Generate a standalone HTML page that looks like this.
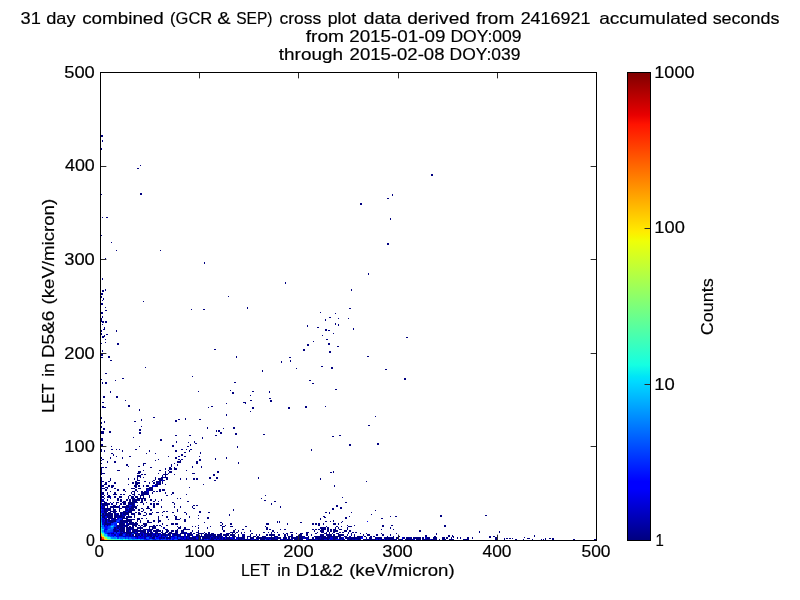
<!DOCTYPE html>
<html><head><meta charset="utf-8"><title>LET cross plot</title>
<style>
html,body{margin:0;padding:0;background:#fff;}
body{width:800px;height:600px;overflow:hidden;}
svg{display:block;}
text{font-family:"Liberation Sans",sans-serif;font-size:16.5px;fill:#000;stroke:#000;stroke-width:0.18px;}
</style></head><body>
<svg width="800" height="600" viewBox="0 0 800 600">
<defs><linearGradient id="jet" x1="0" y1="1" x2="0" y2="0"><stop offset="0.0000" stop-color="rgb(0,0,128)"/><stop offset="0.1100" stop-color="rgb(0,0,255)"/><stop offset="0.1250" stop-color="rgb(0,0,255)"/><stop offset="0.3400" stop-color="rgb(0,219,255)"/><stop offset="0.3500" stop-color="rgb(0,229,247)"/><stop offset="0.3750" stop-color="rgb(21,255,226)"/><stop offset="0.6400" stop-color="rgb(239,255,8)"/><stop offset="0.6500" stop-color="rgb(247,246,0)"/><stop offset="0.6600" stop-color="rgb(255,236,0)"/><stop offset="0.8900" stop-color="rgb(255,19,0)"/><stop offset="0.9100" stop-color="rgb(232,0,0)"/><stop offset="1.0000" stop-color="rgb(128,0,0)"/></linearGradient><filter id="gray" x="0" y="0" width="800" height="600" filterUnits="userSpaceOnUse" color-interpolation-filters="sRGB"><feColorMatrix type="saturate" values="0"/></filter></defs>
<rect x="0" y="0" width="800" height="600" fill="#fff"/>
<g shape-rendering="crispEdges">
<path fill="#000080" d="M101 135h2v2h-2zM101 293h2v2h-2zM101 303h2v2h-2zM101 312h2v2h-2zM101 354h2v2h-2zM101 357h2v1h-2zM101 438h2v3h-2zM101 444h2v2h-2zM102 140h1v2h-1zM102 217h1v1h-1zM102 278h1v2h-1zM102 300h1v1h-1zM102 316h1v2h-1zM102 324h1v1h-1zM102 350h1v2h-1zM102 382h1v2h-1zM101 148h1v2h-1zM101 194h1v1h-1zM101 235h1v1h-1zM101 296h1v2h-1zM101 318h1v3h-1zM101 330h1v2h-1zM101 333h1v2h-1zM101 343h1v1h-1zM101 379h1v1h-1zM101 417h1v2h-1zM101 422h1v2h-1zM101 426h1v2h-1zM140 165h1v1h-1zM137 168h2v1h-2zM431 174h2v2h-2zM140 193h2v2h-2zM392 194h1v2h-1zM387 198h2v1h-2zM387 243h2v2h-2zM360 203h2v2h-2zM106 217h2v1h-2zM106 334h2v1h-2zM390 218h1v2h-1zM390 516h1v1h-1zM111 242h1v1h-1zM111 446h1v1h-1zM116 250h1v1h-1zM116 330h1v2h-1zM160 250h1v1h-1zM105 258h1v1h-1zM105 289h1v2h-1zM105 307h1v1h-1zM105 339h1v1h-1zM105 342h1v1h-1zM204 262h1v2h-1zM368 273h1v2h-1zM285 282h1v2h-1zM351 289h1v2h-1zM351 512h1v1h-1zM102 290h2v2h-2zM102 322h2v1h-2zM102 337h2v1h-2zM102 402h2v1h-2zM102 406h2v1h-2zM228 296h1v1h-1zM103 298h1v2h-1zM143 301h1v1h-1zM247 307h1v2h-1zM349 308h2v1h-2zM349 444h2v2h-2zM191 309h1v1h-1zM203 309h2v1h-2zM105 310h2v1h-2zM105 321h2v2h-2zM105 373h2v1h-2zM105 382h2v2h-2zM320 312h1v1h-1zM320 478h1v2h-1zM320 518h1v2h-1zM335 313h1v1h-1zM335 323h1v2h-1zM329 317h2v1h-2zM329 351h2v2h-2zM338 318h1v1h-1zM338 324h1v2h-1zM348 318h1v1h-1zM325 319h1v2h-1zM325 406h1v1h-1zM101 321h3v1h-3zM101 431h3v3h-3zM307 325h1v2h-1zM104 327h1v2h-1zM104 335h1v1h-1zM104 421h1v2h-1zM317 327h2v1h-2zM353 328h1v2h-1zM103 329h2v1h-2zM103 396h2v2h-2zM103 428h2v2h-2zM325 329h2v2h-2zM325 512h2v1h-2zM325 521h2v1h-2zM328 330h2v1h-2zM328 343h2v2h-2zM333 333h1v1h-1zM333 471h1v2h-1zM333 520h1v2h-1zM322 335h1v1h-1zM102 336h3v1h-3zM406 337h2v1h-2zM326 339h2v1h-2zM313 341h1v1h-1zM117 343h2v2h-2zM307 344h2v2h-2zM337 346h2v1h-2zM214 349h2v1h-2zM214 480h2v1h-2zM303 349h2v2h-2zM108 356h2v2h-2zM236 356h1v2h-1zM367 356h2v1h-2zM289 357h2v1h-2zM110 360h2v1h-2zM290 360h1v2h-1zM281 361h1v2h-1zM321 366h2v1h-2zM145 367h1v1h-1zM331 367h2v2h-2zM296 368h1v1h-1zM385 369h2v1h-2zM262 370h1v2h-1zM192 376h1v1h-1zM122 378h2v1h-2zM404 378h2v2h-2zM115 380h1v1h-1zM309 380h2v1h-2zM234 382h2v1h-2zM312 383h2v1h-2zM335 389h2v1h-2zM230 390h1v1h-1zM110 391h1v2h-1zM198 391h1v1h-1zM252 391h2v1h-2zM252 407h2v2h-2zM269 391h1v2h-1zM232 392h2v2h-2zM250 395h1v1h-1zM250 411h1v1h-1zM116 396h2v2h-2zM269 398h2v1h-2zM125 400h1v1h-1zM250 400h2v1h-2zM270 400h2v2h-2zM243 402h3v1h-3zM226 403h1v1h-1zM226 414h1v2h-1zM226 457h1v2h-1zM245 403h1v1h-1zM128 405h2v2h-2zM211 406h2v1h-2zM305 406h2v2h-2zM102 407h4v1h-4zM208 407h1v1h-1zM288 407h2v2h-2zM139 409h1v2h-1zM139 446h1v1h-1zM375 416h1v1h-1zM375 510h1v1h-1zM153 417h2v1h-2zM185 418h1v2h-1zM141 419h1v2h-1zM141 426h1v1h-1zM178 419h2v1h-2zM199 419h2v1h-2zM199 459h2v2h-2zM199 511h2v2h-2zM175 420h2v2h-2zM175 435h2v1h-2zM134 421h2v1h-2zM368 425h2v1h-2zM207 427h1v2h-1zM233 427h2v2h-2zM223 428h1v1h-1zM139 429h2v2h-2zM139 432h2v2h-2zM216 430h1v2h-1zM218 430h2v2h-2zM109 431h2v2h-2zM220 432h2v2h-2zM235 433h2v2h-2zM263 434h2v1h-2zM189 435h2v1h-2zM215 435h2v1h-2zM339 435h2v1h-2zM332 436h2v1h-2zM332 508h2v2h-2zM133 437h1v1h-1zM202 437h1v2h-1zM160 439h2v2h-2zM176 441h1v2h-1zM194 441h1v2h-1zM188 442h1v1h-1zM195 443h2v1h-2zM377 443h2v2h-2zM190 444h1v2h-1zM172 445h2v2h-2zM187 446h2v1h-2zM237 446h1v2h-1zM311 449h1v2h-1zM200 452h1v2h-1zM215 458h1v2h-1zM238 462h1v2h-1zM201 466h1v2h-1zM217 471h2v2h-2zM330 472h2v1h-2zM213 474h2v2h-2zM209 477h2v2h-2zM216 477h2v2h-2zM258 477h1v2h-1zM366 481h1v1h-1zM203 484h1v1h-1zM334 485h1v2h-1zM265 495h1v1h-1zM342 497h1v1h-1zM342 521h1v1h-1zM261 498h1v1h-1zM264 500h2v1h-2zM274 501h2v1h-2zM345 502h2v1h-2zM345 517h2v2h-2zM271 503h1v2h-1zM336 505h2v2h-2zM280 506h1v2h-1zM340 507h2v2h-2zM233 509h1v2h-1zM208 512h2v1h-2zM329 512h1v2h-1zM229 514h1v2h-1zM371 514h1v1h-1zM440 515h2v2h-2zM485 515h2v1h-2zM323 516h2v1h-2zM349 516h1v1h-1zM395 516h2v1h-2zM207 517h2v2h-2zM324 517h2v1h-2zM381 518h2v1h-2zM277 521h1v2h-1zM279 521h1v2h-1zM330 521h1v1h-1zM444 525h2v2h-2zM419 530h2v2h-2zM479 531h1v2h-1zM499 531h1v2h-1zM436 533h1v2h-1zM425 535h2v2h-2zM448 535h2v2h-2zM452 535h1v1h-1zM534 535h1v2h-1zM434 536h2v1h-2zM452 536h2v1h-2zM489 536h2v2h-2zM493 536h2v1h-2zM453 537h1v1h-1zM524 537h1v1h-1zM504 538h1v2h-1zM506 538h2v1h-2zM509 538h2v1h-2zM512 538h1v1h-1zM527 538h3v1h-3zM545 538h1v2h-1zM549 538h2v1h-2zM552 538h2v2h-2zM515 539h2v1h-2zM523 539h1v1h-1zM532 539h1v1h-1zM541 539h1v1h-1zM543 539h1v1h-1zM573 539h2v1h-2zM594 539h2v1h-2z"/>
<path fill="#000080" d="M101 449h1v3h-1zM101 457h1v2h-1zM101 463h1v1h-1zM101 467h1v6h-1zM101 474h1v1h-1zM101 480h1v1h-1zM101 491h1v1h-1zM101 499h1v2h-1zM111 449h2v1h-2zM111 453h2v1h-2zM111 487h2v1h-2zM116 449h1v1h-1zM116 456h1v1h-1zM119 449h1v1h-1zM119 508h1v4h-1zM135 449h2v1h-2zM135 481h2v1h-2zM135 485h2v3h-2zM135 489h2v2h-2zM135 508h2v1h-2zM135 512h2v1h-2zM135 522h2v1h-2zM135 536h2v1h-2zM181 449h2v1h-2zM181 454h2v2h-2zM181 459h2v1h-2zM186 449h1v1h-1zM186 470h1v1h-1zM186 478h1v2h-1zM186 494h1v1h-1zM186 513h1v2h-1zM190 449h2v1h-2zM190 532h2v1h-2zM104 450h1v2h-1zM104 495h1v1h-1zM104 503h1v2h-1zM104 512h1v1h-1zM122 450h1v2h-1zM122 457h1v2h-1zM122 523h1v2h-1zM149 450h1v2h-1zM149 482h1v2h-1zM149 495h1v3h-1zM149 530h1v2h-1zM175 450h2v2h-2zM175 457h2v2h-2zM175 516h2v3h-2zM189 450h1v2h-1zM189 487h1v1h-1zM189 516h1v2h-1zM184 452h2v1h-2zM184 456h2v1h-2zM184 512h2v1h-2zM184 519h2v3h-2zM184 527h2v2h-2zM146 453h1v1h-1zM146 488h1v1h-1zM146 518h1v1h-1zM146 529h1v1h-1zM155 453h1v1h-1zM155 460h1v1h-1zM155 477h1v3h-1zM155 499h1v2h-1zM155 527h1v2h-1zM155 532h1v1h-1zM113 454h1v2h-1zM113 505h1v1h-1zM113 508h1v1h-1zM129 456h2v1h-2zM129 495h2v1h-2zM129 499h2v2h-2zM129 532h2v1h-2zM168 456h1v1h-1zM168 519h1v1h-1zM168 533h1v1h-1zM199 456h1v1h-1zM110 457h1v2h-1zM110 478h1v2h-1zM110 491h1v1h-1zM110 498h1v1h-1zM110 502h1v1h-1zM110 511h1v1h-1zM110 515h1v1h-1zM102 459h2v1h-2zM102 473h2v1h-2zM102 481h2v1h-2zM102 505h2v1h-2zM158 459h1v1h-1zM158 473h1v1h-1zM158 501h1v1h-1zM158 516h1v3h-1zM158 522h1v1h-1zM158 529h1v1h-1zM178 459h2v1h-2zM180 460h1v1h-1zM180 478h1v2h-1zM180 498h1v1h-1zM180 518h1v1h-1zM180 526h1v1h-1zM114 461h2v2h-2zM114 482h2v2h-2zM114 488h2v1h-2zM114 492h2v2h-2zM114 496h2v2h-2zM114 513h2v2h-2zM114 527h2v3h-2zM178 461h3v2h-3zM178 527h3v2h-3zM196 461h2v3h-2zM196 478h2v2h-2zM196 505h2v1h-2zM196 532h2v1h-2zM143 463h3v1h-3zM143 515h3v1h-3zM143 532h3v1h-3zM174 463h1v1h-1zM174 467h1v1h-1zM174 474h1v1h-1zM174 503h1v2h-1zM174 506h1v2h-1zM174 515h1v1h-1zM126 464h2v2h-2zM126 499h2v2h-2zM126 506h2v2h-2zM126 513h2v2h-2zM126 522h2v1h-2zM143 464h1v2h-1zM143 470h1v1h-1zM143 477h1v1h-1zM143 485h1v2h-1zM143 495h1v1h-1zM143 503h1v2h-1zM143 509h1v2h-1zM143 526h1v1h-1zM171 464h1v3h-1zM171 494h1v1h-1zM171 523h1v2h-1zM171 530h1v3h-1zM171 536h1v1h-1zM177 464h1v2h-1zM177 498h1v1h-1zM177 509h1v2h-1zM177 532h1v1h-1zM177 534h1v2h-1zM128 466h1v1h-1zM128 478h1v2h-1zM128 484h1v1h-1zM128 496h1v3h-1zM128 502h1v1h-1zM128 511h1v1h-1zM128 529h1v1h-1zM138 466h2v1h-2zM138 485h2v2h-2zM138 499h2v2h-2zM138 509h2v2h-2zM138 512h2v1h-2zM138 525h2v1h-2zM192 466h1v2h-1zM192 506h1v2h-1zM192 526h1v1h-1zM192 530h1v2h-1zM105 467h2v1h-2zM105 487h2v1h-2zM150 467h2v1h-2zM150 499h2v2h-2zM150 503h2v2h-2zM150 509h2v2h-2zM150 513h2v2h-2zM169 467h2v3h-2zM165 468h1v2h-1zM165 471h1v3h-1zM165 484h1v1h-1zM165 492h1v2h-1zM174 468h3v2h-3zM117 470h3v1h-3zM159 470h2v1h-2zM159 480h2v1h-2zM159 482h2v3h-2zM159 489h2v3h-2zM159 520h2v2h-2zM159 525h2v1h-2zM140 471h1v2h-1zM140 488h1v1h-1zM140 496h1v2h-1zM140 502h1v1h-1zM140 513h1v2h-1zM140 520h1v3h-1zM140 536h1v1h-1zM169 471h3v2h-3zM137 473h3v1h-3zM137 475h3v2h-3zM137 482h3v2h-3zM137 518h3v1h-3zM192 473h3v1h-3zM141 474h2v1h-2zM141 491h2v1h-2zM141 494h2v1h-2zM141 499h2v3h-2zM141 508h2v1h-2zM141 511h2v1h-2zM141 518h2v1h-2zM144 474h2v1h-2zM144 481h2v1h-2zM144 491h2v1h-2zM144 498h2v3h-2zM144 512h2v1h-2zM144 533h2v1h-2zM165 474h3v1h-3zM165 529h3v1h-3zM162 475h1v2h-1zM162 481h1v3h-1zM162 515h1v1h-1zM162 523h1v2h-1zM162 530h1v2h-1zM137 477h1v3h-1zM137 496h1v3h-1zM137 502h1v1h-1zM137 505h1v1h-1zM137 519h1v3h-1zM137 527h1v2h-1zM137 530h1v4h-1zM166 477h2v3h-2zM166 495h2v1h-2zM166 511h2v1h-2zM166 516h2v2h-2zM166 525h2v1h-2zM134 478h1v2h-1zM134 492h1v4h-1zM134 499h1v2h-1zM134 506h1v2h-1zM134 516h1v2h-1zM158 478h3v2h-3zM158 530h3v2h-3zM193 478h2v2h-2zM193 505h2v1h-2zM193 508h2v1h-2zM108 481h2v1h-2zM108 485h2v2h-2zM108 509h2v2h-2zM152 481h1v1h-1zM152 487h1v2h-1zM152 492h1v2h-1zM152 512h1v1h-1zM152 527h1v2h-1zM156 481h5v1h-5zM132 482h2v2h-2zM132 491h2v1h-2zM132 534h2v2h-2zM153 482h2v2h-2zM153 491h2v1h-2zM153 501h2v1h-2zM153 503h2v5h-2zM153 520h2v2h-2zM156 482h2v2h-2zM156 485h2v2h-2zM156 491h2v1h-2zM156 512h2v1h-2zM104 484h3v1h-3zM104 502h3v1h-3zM104 508h3v1h-3zM104 511h3v1h-3zM135 484h3v1h-3zM135 523h3v2h-3zM111 485h3v2h-3zM111 506h3v2h-3zM146 485h3v2h-3zM102 488h3v1h-3zM131 488h4v1h-4zM117 489h2v2h-2zM117 499h2v2h-2zM117 506h2v2h-2zM117 515h2v1h-2zM123 489h2v2h-2zM123 494h2v1h-2zM123 506h2v2h-2zM123 511h2v1h-2zM123 527h2v2h-2zM150 489h3v2h-3zM162 489h3v2h-3zM125 491h1v1h-1zM125 503h1v2h-1zM125 508h1v1h-1zM107 492h1v3h-1zM107 513h1v3h-1zM131 492h1v2h-1zM131 508h1v1h-1zM131 511h1v1h-1zM131 516h1v2h-1zM131 522h1v1h-1zM141 492h3v2h-3zM172 492h2v2h-2zM172 502h2v1h-2zM172 512h2v1h-2zM114 494h3v1h-3zM120 494h2v1h-2zM120 499h2v3h-2zM120 503h2v2h-2zM120 513h2v2h-2zM120 522h2v1h-2zM120 529h2v1h-2zM147 494h2v1h-2zM147 506h2v2h-2zM147 520h2v2h-2zM107 496h3v2h-3zM107 503h3v2h-3zM119 496h3v2h-3zM131 496h3v2h-3zM132 498h3v1h-3zM132 505h3v1h-3zM132 509h3v2h-3zM132 513h3v2h-3zM132 532h3v1h-3zM140 498h3v1h-3zM140 527h3v2h-3zM161 499h1v2h-1zM161 506h1v2h-1zM161 526h1v1h-1zM161 536h1v1h-1zM123 501h3v1h-3zM187 501h2v1h-2zM116 502h3v1h-3zM122 502h4v1h-4zM156 503h3v2h-3zM105 505h3v1h-3zM146 508h4v1h-4zM113 509h3v2h-3zM113 518h3v1h-3zM113 511h4v1h-4zM163 511h2v1h-2zM163 533h2v1h-2zM108 512h3v1h-3zM128 512h4v1h-4zM198 515h1v1h-1zM198 518h1v1h-1zM198 527h1v2h-1zM198 530h1v2h-1zM198 534h1v2h-1zM110 516h3v2h-3zM125 518h3v1h-3zM129 519h6v1h-6zM175 519h5v1h-5zM122 520h3v2h-3zM126 520h6v2h-6zM147 522h5v1h-5zM204 522h1v1h-1zM220 522h2v1h-2zM220 533h2v1h-2zM300 522h2v1h-2zM341 522h1v1h-1zM341 526h1v1h-1zM341 534h1v2h-1zM129 523h5v2h-5zM143 523h4v2h-4zM175 523h3v2h-3zM230 523h2v2h-2zM230 534h2v2h-2zM266 523h3v2h-3zM287 523h1v2h-1zM287 534h1v2h-1zM312 523h2v2h-2zM312 529h2v1h-2zM312 537h2v2h-2zM315 523h2v2h-2zM315 529h2v1h-2zM315 533h2v1h-2zM315 537h2v2h-2zM318 523h2v2h-2zM318 529h2v1h-2zM318 539h2v1h-2zM323 523h1v2h-1zM323 529h1v1h-1zM333 523h3v2h-3zM333 529h3v1h-3zM338 523h1v2h-1zM338 527h1v2h-1zM338 534h1v2h-1zM125 525h4v1h-4zM144 525h3v1h-3zM225 525h1v1h-1zM225 536h1v1h-1zM347 525h1v1h-1zM347 527h1v3h-1zM347 534h1v2h-1zM382 525h2v2h-2zM382 534h2v2h-2zM391 525h2v1h-2zM391 539h2v1h-2zM152 526h4v1h-4zM195 526h1v1h-1zM195 539h1v1h-1zM222 526h3v1h-3zM230 526h3v1h-3zM245 526h2v1h-2zM265 526h1v1h-1zM326 526h1v1h-1zM326 533h1v3h-1zM326 537h1v2h-1zM336 526h2v1h-2zM336 530h2v2h-2zM348 526h4v1h-4zM207 527h1v2h-1zM207 536h1v1h-1zM222 527h1v3h-1zM266 527h2v3h-2zM266 534h2v2h-2zM320 527h6v2h-6zM327 527h2v5h-2zM335 527h1v2h-1zM335 536h1v1h-1zM390 527h1v2h-1zM390 534h1v2h-1zM390 537h1v2h-1zM134 529h3v1h-3zM149 529h3v1h-3zM183 529h7v1h-7zM235 529h1v1h-1zM235 533h1v1h-1zM235 536h1v1h-1zM242 529h2v1h-2zM280 529h1v1h-1zM284 529h2v1h-2zM284 534h2v3h-2zM330 529h2v1h-2zM330 536h2v1h-2zM339 529h3v1h-3zM381 529h1v1h-1zM381 533h1v1h-1zM393 529h1v1h-1zM393 537h1v2h-1zM126 530h3v2h-3zM126 533h3v1h-3zM140 530h6v2h-6zM166 530h3v2h-3zM181 530h3v3h-3zM233 530h2v2h-2zM233 534h2v2h-2zM238 530h1v2h-1zM238 536h1v1h-1zM250 530h1v2h-1zM250 534h1v3h-1zM272 530h2v2h-2zM314 530h1v2h-1zM320 530h3v2h-3zM320 534h3v2h-3zM344 530h3v2h-3zM344 536h3v1h-3zM349 530h2v2h-2zM349 539h2v1h-2zM208 532h2v2h-2zM230 532h5v1h-5zM236 532h2v1h-2zM241 532h1v1h-1zM241 537h1v2h-1zM244 532h1v1h-1zM244 536h1v1h-1zM244 539h1v1h-1zM271 532h1v2h-1zM271 537h1v2h-1zM274 532h1v1h-1zM277 532h1v1h-1zM277 539h1v1h-1zM290 532h3v1h-3zM308 532h1v1h-1zM308 536h1v1h-1zM321 532h3v1h-3zM329 532h1v2h-1zM333 532h2v1h-2zM339 532h2v1h-2zM339 536h2v1h-2zM342 532h2v1h-2zM352 532h2v1h-2zM155 533h3v1h-3zM172 533h3v1h-3zM183 533h1v1h-1zM189 533h3v1h-3zM198 533h6v1h-6zM205 533h2v3h-2zM211 533h2v1h-2zM211 537h2v2h-2zM227 533h3v1h-3zM232 533h1v1h-1zM251 533h2v1h-2zM283 533h1v1h-1zM286 533h2v1h-2zM296 533h1v1h-1zM296 539h1v1h-1zM300 533h3v1h-3zM300 536h3v1h-3zM306 533h2v1h-2zM332 533h1v1h-1zM336 533h3v1h-3zM348 533h1v1h-1zM351 533h1v1h-1zM351 537h1v2h-1zM360 533h1v1h-1zM360 536h1v1h-1zM396 533h1v1h-1zM396 539h1v1h-1zM187 534h3v2h-3zM213 534h3v2h-3zM217 534h5v2h-5zM223 534h3v2h-3zM227 534h2v2h-2zM259 534h1v2h-1zM269 534h6v2h-6zM278 534h2v2h-2zM291 534h2v2h-2zM299 534h3v2h-3zM311 534h1v2h-1zM329 534h3v2h-3zM354 534h1v5h-1zM363 534h1v2h-1zM367 534h3v2h-3zM376 534h2v2h-2zM219 536h3v1h-3zM229 536h1v1h-1zM247 536h1v1h-1zM253 536h1v3h-1zM257 536h2v1h-2zM288 536h3v1h-3zM297 536h2v1h-2zM321 536h5v1h-5zM357 536h1v1h-1zM370 536h2v3h-2zM373 536h2v1h-2zM387 536h1v3h-1zM399 536h1v1h-1zM207 537h3v2h-3zM259 537h6v2h-6zM293 537h1v2h-1zM297 537h3v2h-3zM302 537h1v2h-1zM321 537h2v3h-2zM358 537h2v2h-2zM378 537h3v2h-3zM384 537h1v2h-1zM397 537h2v2h-2zM408 537h1v2h-1zM411 537h1v2h-1zM415 537h3v2h-3zM419 537h2v2h-2zM434 537h3v2h-3zM442 537h3v2h-3zM446 537h2v2h-2zM457 537h1v2h-1zM460 537h1v2h-1zM467 537h2v2h-2zM495 537h2v3h-2zM226 539h1v1h-1zM239 539h2v1h-2zM268 539h1v1h-1zM299 539h4v1h-4zM309 539h2v1h-2zM373 539h3v1h-3zM381 539h3v1h-3zM388 539h2v1h-2zM399 539h3v1h-3zM412 539h1v1h-1zM418 539h3v1h-3zM424 539h3v1h-3zM428 539h2v1h-2zM433 539h1v1h-1zM439 539h1v1h-1zM445 539h1v1h-1zM449 539h5v1h-5zM463 539h4v1h-4z"/>
<path fill="#000080" d="M101 460h1v1h-1zM101 477h1v3h-1zM177 461h1v2h-1zM177 526h1v1h-1zM177 529h1v1h-1zM102 467h2v1h-2zM102 485h2v2h-2zM102 492h2v3h-2zM102 501h2v1h-2zM171 468h1v2h-1zM168 470h1v1h-1zM168 473h1v1h-1zM140 477h1v1h-1zM140 526h1v1h-1zM161 478h2v2h-2zM161 532h2v1h-2zM110 480h1v1h-1zM110 508h1v3h-1zM110 513h1v2h-1zM153 480h2v1h-2zM153 527h2v2h-2zM161 480h1v1h-1zM161 534h1v2h-1zM163 480h2v1h-2zM135 482h2v2h-2zM135 496h2v2h-2zM135 499h2v3h-2zM135 526h2v1h-2zM155 484h1v1h-1zM158 484h1v1h-1zM158 520h1v2h-1zM158 534h1v2h-1zM134 485h1v2h-1zM134 491h1v1h-1zM134 523h1v2h-1zM134 530h1v2h-1zM134 536h1v1h-1zM107 487h1v2h-1zM107 499h1v2h-1zM107 508h1v1h-1zM107 516h1v2h-1zM149 487h1v1h-1zM149 489h1v2h-1zM149 513h1v2h-1zM149 526h1v3h-1zM147 488h5v1h-5zM146 489h1v2h-1zM146 492h1v2h-1zM146 502h1v1h-1zM146 513h1v2h-1zM113 494h1v1h-1zM132 494h2v1h-2zM132 526h2v1h-2zM132 529h2v1h-2zM138 494h2v1h-2zM138 513h2v2h-2zM138 519h2v1h-2zM138 530h2v2h-2zM140 495h3v1h-3zM143 496h1v3h-1zM104 498h1v1h-1zM104 516h1v2h-1zM131 498h1v1h-1zM131 513h1v2h-1zM129 501h2v4h-2zM129 508h2v1h-2zM129 511h2v1h-2zM129 526h2v1h-2zM141 502h2v1h-2zM141 525h2v1h-2zM105 503h2v2h-2zM105 512h2v1h-2zM105 523h2v2h-2zM116 503h1v2h-1zM116 532h1v1h-1zM126 505h2v1h-2zM126 526h2v1h-2zM126 529h2v1h-2zM114 506h2v2h-2zM114 515h2v1h-2zM122 506h1v2h-1zM122 530h1v2h-1zM125 506h1v2h-1zM125 512h1v1h-1zM125 522h1v1h-1zM125 532h1v1h-1zM104 509h3v2h-3zM104 518h3v1h-3zM113 512h3v1h-3zM162 512h1v1h-1zM117 513h2v2h-2zM117 527h2v2h-2zM128 513h1v2h-1zM128 532h1v1h-1zM108 515h2v1h-2zM108 519h2v1h-2zM111 515h2v1h-2zM114 516h3v2h-3zM119 516h1v2h-1zM119 523h1v2h-1zM119 534h1v2h-1zM126 516h3v2h-3zM126 519h3v1h-3zM108 518h5v1h-5zM108 520h5v2h-5zM123 518h2v1h-2zM120 520h2v2h-2zM120 533h2v1h-2zM119 525h3v1h-3zM132 525h5v1h-5zM156 525h2v1h-2zM156 529h2v1h-2zM156 532h2v1h-2zM156 536h2v1h-2zM220 525h2v1h-2zM354 525h1v1h-1zM354 539h1v1h-1zM117 526h3v1h-3zM128 527h3v2h-3zM144 529h2v1h-2zM152 529h1v1h-1zM324 529h2v1h-2zM324 537h2v2h-2zM150 530h2v2h-2zM150 533h2v1h-2zM153 530h3v2h-3zM172 530h2v2h-2zM175 530h2v2h-2zM175 533h2v3h-2zM223 530h2v2h-2zM223 537h2v2h-2zM323 530h1v2h-1zM323 534h1v2h-1zM323 539h1v1h-1zM330 530h2v2h-2zM333 530h2v2h-2zM333 534h2v3h-2zM169 532h2v2h-2zM169 537h2v2h-2zM186 532h1v1h-1zM204 532h1v1h-1zM204 534h1v2h-1zM263 532h2v1h-2zM263 536h2v1h-2zM263 539h2v1h-2zM306 532h2v1h-2zM306 534h2v2h-2zM317 532h1v1h-1zM317 537h1v2h-1zM348 532h1v1h-1zM355 532h2v1h-2zM355 537h2v2h-2zM159 533h2v1h-2zM180 533h1v1h-1zM193 533h2v1h-2zM193 537h2v3h-2zM213 533h1v1h-1zM366 533h1v1h-1zM366 537h1v2h-1zM165 534h1v2h-1zM168 534h3v2h-3zM196 534h2v2h-2zM201 534h1v2h-1zM207 534h6v2h-6zM238 534h1v2h-1zM238 537h1v2h-1zM256 534h1v2h-1zM327 534h2v5h-2zM339 534h2v2h-2zM342 534h2v2h-2zM351 534h1v2h-1zM189 536h1v3h-1zM198 536h1v1h-1zM202 536h2v1h-2zM205 536h2v1h-2zM213 536h3v1h-3zM217 536h2v3h-2zM226 536h1v1h-1zM232 536h1v1h-1zM248 536h2v1h-2zM274 536h4v1h-4zM296 536h1v1h-1zM299 536h1v1h-1zM314 536h1v1h-1zM318 536h2v1h-2zM336 536h3v1h-3zM358 536h2v1h-2zM361 536h2v1h-2zM364 536h2v1h-2zM364 539h2v1h-2zM393 536h1v1h-1zM227 537h2v2h-2zM244 537h1v2h-1zM247 537h1v2h-1zM256 537h3v2h-3zM265 537h1v2h-1zM269 537h2v2h-2zM274 537h1v2h-1zM277 537h1v2h-1zM280 537h1v2h-1zM283 537h1v3h-1zM286 537h1v2h-1zM288 537h2v2h-2zM291 537h2v2h-2zM294 537h2v2h-2zM305 537h1v2h-1zM335 537h3v2h-3zM341 537h1v2h-1zM345 537h4v2h-4zM375 537h1v2h-1zM385 537h2v2h-2zM388 537h2v2h-2zM391 537h2v2h-2zM406 537h2v3h-2zM422 537h2v3h-2zM427 537h3v2h-3zM433 537h1v2h-1zM451 537h1v2h-1zM472 537h1v2h-1zM187 539h2v1h-2zM230 539h2v1h-2zM241 539h1v1h-1zM245 539h2v1h-2zM254 539h2v1h-2zM260 539h2v1h-2zM271 539h6v1h-6zM287 539h3v1h-3zM297 539h2v1h-2zM308 539h1v1h-1zM358 539h3v1h-3zM372 539h1v1h-1zM390 539h1v1h-1zM393 539h3v1h-3zM409 539h2v1h-2zM431 539h2v1h-2zM442 539h1v1h-1zM467 539h2v1h-2z"/>
<path fill="#000080" d="M101 473h1v1h-1zM101 485h1v3h-1zM101 495h1v1h-1zM101 498h1v1h-1zM163 474h2v1h-2zM163 534h2v2h-2zM163 537h2v2h-2zM140 475h1v2h-1zM140 533h1v1h-1zM162 477h1v1h-1zM162 533h1v1h-1zM165 477h1v1h-1zM165 533h1v1h-1zM137 480h1v1h-1zM137 499h1v2h-1zM137 529h1v1h-1zM156 484h2v1h-2zM156 530h2v2h-2zM152 485h1v2h-1zM152 533h1v1h-1zM155 485h1v2h-1zM155 534h1v2h-1zM144 492h2v2h-2zM144 526h2v1h-2zM143 494h3v1h-3zM102 496h2v2h-2zM102 503h2v2h-2zM102 508h2v1h-2zM102 513h2v2h-2zM132 499h2v2h-2zM132 508h2v1h-2zM132 527h2v2h-2zM132 501h3v1h-3zM113 502h1v1h-1zM131 502h1v3h-1zM131 509h1v2h-1zM131 532h1v1h-1zM114 505h2v1h-2zM114 519h2v1h-2zM119 505h1v1h-1zM128 505h1v3h-1zM128 523h1v2h-1zM104 506h1v2h-1zM116 506h1v2h-1zM131 506h3v2h-3zM135 506h2v2h-2zM135 530h2v2h-2zM108 508h2v1h-2zM126 509h2v2h-2zM126 512h2v1h-2zM126 527h2v2h-2zM126 532h2v1h-2zM107 511h1v1h-1zM107 525h1v1h-1zM111 511h2v1h-2zM111 513h2v2h-2zM125 511h1v1h-1zM125 526h1v1h-1zM105 515h2v1h-2zM105 522h2v1h-2zM134 515h1v1h-1zM120 516h2v2h-2zM120 523h2v2h-2zM120 530h2v2h-2zM123 516h2v2h-2zM123 529h2v1h-2zM123 532h2v1h-2zM129 516h2v2h-2zM122 519h1v1h-1zM122 522h1v1h-1zM122 527h1v2h-1zM158 519h1v1h-1zM158 533h1v1h-1zM113 520h3v2h-3zM110 522h3v1h-3zM110 523h1v2h-1zM150 526h2v1h-2zM150 532h2v1h-2zM143 529h1v1h-1zM321 529h2v1h-2zM177 530h1v2h-1zM177 536h1v1h-1zM335 530h1v2h-1zM165 532h3v1h-3zM171 533h1v1h-1zM184 533h2v1h-2zM180 534h1v3h-1zM180 539h1v1h-1zM226 534h1v2h-1zM232 534h1v2h-1zM232 539h1v1h-1zM183 536h1v1h-1zM199 536h3v1h-3zM208 536h3v1h-3zM216 536h1v1h-1zM216 539h1v1h-1zM233 536h2v1h-2zM242 536h2v3h-2zM262 536h1v1h-1zM271 536h1v1h-1zM291 536h2v1h-2zM303 536h2v1h-2zM317 536h1v1h-1zM329 536h1v1h-1zM332 536h1v1h-1zM166 537h2v2h-2zM190 537h2v2h-2zM195 537h1v2h-1zM199 537h2v2h-2zM202 537h3v2h-3zM214 537h2v2h-2zM251 537h2v2h-2zM272 537h2v2h-2zM278 537h2v2h-2zM284 537h2v3h-2zM300 537h2v2h-2zM308 537h1v2h-1zM333 537h2v3h-2zM339 537h2v2h-2zM352 537h2v2h-2zM360 537h1v2h-1zM369 537h1v2h-1zM381 537h1v2h-1zM413 537h2v2h-2zM418 537h1v2h-1zM202 539h2v1h-2zM211 539h3v1h-3zM225 539h1v1h-1zM227 539h2v1h-2zM235 539h1v1h-1zM248 539h3v1h-3zM312 539h2v1h-2zM320 539h1v1h-1zM327 539h2v1h-2zM342 539h2v1h-2zM351 539h1v1h-1zM363 539h1v1h-1zM367 539h2v1h-2zM378 539h1v1h-1zM405 539h1v1h-1zM408 539h1v1h-1zM427 539h1v1h-1zM434 539h3v1h-3zM443 539h2v1h-2z"/>
<path fill="#000080" d="M107 461h1v2h-1zM107 506h1v2h-1zM138 471h2v2h-2zM138 480h2v1h-2zM138 488h2v1h-2zM138 498h2v1h-2zM138 527h2v2h-2zM138 534h2v2h-2zM104 473h1v1h-1zM104 515h1v1h-1zM104 525h1v1h-1zM165 475h1v2h-1zM165 536h1v1h-1zM161 477h1v1h-1zM161 537h1v2h-1zM101 482h1v2h-1zM101 489h1v2h-1zM101 492h1v2h-1zM101 496h1v2h-1zM101 501h1v1h-1zM105 482h2v2h-2zM105 489h2v2h-2zM105 513h2v2h-2zM105 519h2v3h-2zM150 487h2v1h-2zM150 536h2v1h-2zM137 491h1v1h-1zM137 536h1v1h-1zM108 495h2v1h-2zM108 513h2v2h-2zM108 516h2v2h-2zM117 498h2v1h-2zM117 525h2v1h-2zM117 530h2v2h-2zM132 502h5v1h-5zM123 503h2v2h-2zM123 512h2v1h-2zM123 523h2v2h-2zM123 530h2v2h-2zM128 503h1v2h-1zM128 515h1v1h-1zM132 503h2v2h-2zM132 522h2v1h-2zM132 530h2v2h-2zM110 506h1v2h-1zM180 506h1v2h-1zM120 508h2v1h-2zM120 512h2v1h-2zM120 515h2v1h-2zM120 527h2v2h-2zM120 534h2v2h-2zM129 509h2v2h-2zM129 522h2v1h-2zM129 529h2v1h-2zM129 533h2v3h-2zM177 511h1v1h-1zM158 512h1v1h-1zM123 513h3v2h-3zM116 515h1v1h-1zM102 516h2v2h-2zM122 518h1v1h-1zM122 529h1v1h-1zM122 533h1v1h-1zM113 519h1v1h-1zM113 533h1v1h-1zM125 520h1v2h-1zM107 523h3v2h-3zM172 523h2v2h-2zM222 523h1v2h-1zM122 525h3v1h-3zM153 525h2v1h-2zM153 536h2v1h-2zM198 525h1v1h-1zM198 532h1v1h-1zM198 537h1v2h-1zM318 525h2v1h-2zM318 537h2v2h-2zM120 526h3v1h-3zM210 526h1v1h-1zM119 529h1v1h-1zM140 529h1v1h-1zM269 529h2v1h-2zM114 530h2v2h-2zM147 532h2v1h-2zM175 532h2v1h-2zM268 532h1v1h-1zM326 532h1v1h-1zM134 533h3v1h-3zM146 533h3v1h-3zM181 533h2v1h-2zM181 536h2v1h-2zM186 533h1v1h-1zM186 536h1v4h-1zM241 533h1v1h-1zM324 533h2v1h-2zM135 534h2v2h-2zM141 534h2v2h-2zM147 534h5v2h-5zM174 534h1v2h-1zM190 534h2v2h-2zM244 534h1v2h-1zM169 536h2v1h-2zM195 536h1v1h-1zM254 536h2v1h-2zM265 536h1v1h-1zM315 536h2v1h-2zM320 536h1v1h-1zM152 537h3v2h-3zM168 537h1v2h-1zM183 537h1v2h-1zM192 537h1v2h-1zM205 537h2v2h-2zM220 537h2v2h-2zM226 537h1v2h-1zM229 537h1v3h-1zM233 537h2v2h-2zM250 537h1v2h-1zM296 537h1v2h-1zM323 537h1v2h-1zM329 537h1v2h-1zM357 537h1v2h-1zM396 537h1v2h-1zM403 537h2v2h-2zM178 539h2v1h-2zM198 539h3v1h-3zM223 539h2v1h-2zM238 539h1v1h-1zM262 539h1v1h-1zM280 539h1v1h-1zM290 539h1v1h-1zM294 539h2v1h-2zM311 539h1v1h-1zM314 539h1v1h-1zM370 539h2v1h-2zM385 539h2v1h-2zM411 539h1v1h-1zM416 539h2v1h-2z"/>
<path fill="#0000a4" d="M178 456h2v1h-2zM178 534h2v3h-2zM163 477h2v1h-2zM163 527h2v2h-2zM101 481h1v1h-1zM101 484h1v1h-1zM101 488h1v1h-1zM101 494h1v1h-1zM147 492h2v2h-2zM147 529h2v1h-2zM146 494h1v1h-1zM104 501h1v1h-1zM104 505h1v1h-1zM104 522h1v3h-1zM111 503h2v2h-2zM111 533h2v1h-2zM125 509h1v2h-1zM122 512h1v1h-1zM122 515h1v3h-1zM102 515h2v1h-2zM117 516h2v2h-2zM117 522h2v1h-2zM107 519h1v1h-1zM116 519h1v1h-1zM116 530h1v2h-1zM123 522h2v1h-2zM131 527h1v2h-1zM131 533h1v1h-1zM113 529h1v1h-1zM120 532h2v1h-2zM140 532h3v1h-3zM108 533h2v1h-2zM138 533h2v1h-2zM141 533h2v1h-2zM226 533h1v1h-1zM114 534h2v2h-2zM126 534h2v2h-2zM144 534h2v2h-2zM144 537h2v2h-2zM153 534h2v2h-2zM162 534h1v2h-1zM166 534h2v2h-2zM192 534h1v2h-1zM242 534h2v2h-2zM242 539h2v1h-2zM144 536h3v1h-3zM172 536h2v1h-2zM187 536h2v1h-2zM196 536h2v1h-2zM196 539h2v1h-2zM204 536h1v1h-1zM349 536h2v3h-2zM137 537h1v2h-1zM159 537h2v2h-2zM177 537h1v2h-1zM213 537h1v2h-1zM239 537h2v2h-2zM266 537h2v3h-2zM306 537h2v2h-2zM376 537h2v2h-2zM409 537h2v2h-2zM184 539h2v1h-2zM190 539h2v1h-2zM210 539h1v1h-1zM219 539h3v1h-3zM257 539h2v1h-2zM317 539h1v1h-1zM335 539h1v1h-1zM339 539h2v1h-2zM344 539h1v1h-1zM348 539h1v1h-1zM352 539h2v1h-2zM357 539h1v1h-1zM369 539h1v1h-1zM387 539h1v1h-1zM402 539h1v1h-1z"/>
<path fill="#0000c4" d="M147 489h2v2h-2zM147 530h2v2h-2zM147 536h2v1h-2zM146 491h3v1h-3zM110 496h1v2h-1zM102 499h2v2h-2zM102 506h2v2h-2zM102 511h2v1h-2zM102 519h2v3h-2zM129 506h2v2h-2zM129 530h2v2h-2zM107 509h1v2h-1zM128 509h1v2h-1zM128 534h1v2h-1zM123 515h2v1h-2zM123 526h2v1h-2zM126 523h2v2h-2zM104 526h1v1h-1zM116 526h1v4h-1zM119 527h1v2h-1zM113 530h1v3h-1zM152 532h1v1h-1zM152 534h1v2h-1zM184 532h2v1h-2zM184 534h2v3h-2zM149 533h1v1h-1zM177 533h1v1h-1zM122 534h1v2h-1zM125 534h1v2h-1zM137 534h1v2h-1zM172 534h2v2h-2zM123 536h3v1h-3zM129 536h5v1h-5zM141 536h3v1h-3zM192 536h1v1h-1zM192 539h1v1h-1zM222 536h1v1h-1zM222 539h1v1h-1zM162 537h1v2h-1zM181 537h2v3h-2zM187 537h2v2h-2zM219 537h1v2h-1zM236 537h2v2h-2zM268 537h1v2h-1zM275 537h2v2h-2zM303 537h2v2h-2zM320 537h1v2h-1zM332 537h1v2h-1zM342 537h2v2h-2zM425 537h2v2h-2zM189 539h1v1h-1zM208 539h2v1h-2zM233 539h2v1h-2zM247 539h1v1h-1zM251 539h2v1h-2zM291 539h2v1h-2zM315 539h2v1h-2zM330 539h3v1h-3zM347 539h1v1h-1zM355 539h2v1h-2zM366 539h1v1h-1zM413 539h2v1h-2z"/>
<path fill="#0000da" d="M158 482h1v2h-1zM101 503h1v2h-1zM134 503h1v2h-1zM119 506h1v2h-1zM119 522h1v1h-1zM126 508h2v1h-2zM102 509h2v2h-2zM102 522h2v3h-2zM104 513h1v2h-1zM104 520h1v2h-1zM116 513h1v2h-1zM122 513h1v2h-1zM117 518h2v1h-2zM111 519h2v1h-2zM107 520h1v2h-1zM107 533h1v1h-1zM107 522h3v1h-3zM113 522h1v1h-1zM105 529h2v1h-2zM123 533h2v1h-2zM187 533h2v1h-2zM156 534h2v2h-2zM128 536h1v1h-1zM155 536h1v1h-1zM193 536h2v1h-2zM211 536h2v1h-2zM141 537h2v2h-2zM149 537h3v2h-3zM174 537h1v2h-1zM210 537h1v2h-1zM216 537h1v2h-1zM230 537h2v2h-2zM330 537h2v2h-2zM205 539h2v1h-2zM217 539h2v1h-2zM236 539h2v1h-2zM253 539h1v1h-1zM286 539h1v1h-1zM324 539h2v1h-2zM376 539h2v1h-2zM379 539h2v1h-2z"/>
<path fill="#0000f1" d="M131 505h1v1h-1zM131 529h1v1h-1zM131 534h1v2h-1zM101 508h1v1h-1zM126 511h2v1h-2zM102 512h2v1h-2zM102 518h2v1h-2zM105 516h2v2h-2zM367 521h1v1h-1zM108 525h2v1h-2zM119 530h1v2h-1zM122 532h1v1h-1zM135 532h2v1h-2zM116 533h4v1h-4zM153 533h2v1h-2zM111 534h2v2h-2zM117 534h2v3h-2zM143 534h1v2h-1zM146 534h1v2h-1zM159 534h2v2h-2zM149 536h1v1h-1zM158 536h1v1h-1zM162 536h1v1h-1zM174 536h1v1h-1zM140 537h1v2h-1zM180 537h1v2h-1zM184 537h2v2h-2zM196 537h2v2h-2zM222 537h1v2h-1zM232 537h1v2h-1zM402 537h1v2h-1zM166 539h2v1h-2zM172 539h2v1h-2zM214 539h2v1h-2zM269 539h2v1h-2zM281 539h2v1h-2zM306 539h2v1h-2zM326 539h1v1h-1zM336 539h2v1h-2zM341 539h1v1h-1zM430 539h1v1h-1z"/>
<path fill="#0000ff" d="M101 506h1v2h-1zM119 515h1v1h-1zM105 525h2v4h-2zM116 525h1v1h-1zM116 536h1v1h-1zM104 530h1v2h-1zM111 532h2v1h-2zM110 533h1v1h-1zM143 533h1v1h-1zM143 537h1v2h-1zM113 534h1v2h-1zM138 536h2v3h-2zM159 536h2v1h-2zM159 539h2v1h-2zM135 537h2v2h-2zM156 537h2v2h-2zM361 537h2v2h-2zM146 539h1v1h-1zM155 539h1v1h-1zM169 539h2v1h-2zM183 539h1v1h-1zM256 539h1v1h-1z"/>
<path fill="#0005ff" d="M162 480h1v1h-1zM153 485h2v2h-2zM153 539h2v1h-2zM101 502h1v1h-1zM101 511h1v1h-1zM101 515h1v1h-1zM125 515h1v1h-1zM125 533h1v1h-1zM104 519h1v1h-1zM104 529h1v1h-1zM117 519h2v1h-2zM117 529h2v1h-2zM120 519h2v1h-2zM107 526h1v1h-1zM140 534h1v2h-1zM113 536h1v1h-1zM122 536h1v1h-1zM126 536h2v1h-2zM152 536h1v1h-1zM163 536h2v1h-2zM158 537h1v2h-1zM172 537h2v2h-2zM225 537h1v2h-1zM204 539h1v1h-1zM338 539h1v1h-1zM384 539h1v1h-1z"/>
<path fill="#0015ff" d="M129 505h2v1h-2zM101 512h1v1h-1zM120 518h2v1h-2zM116 520h1v2h-1zM116 523h1v2h-1zM119 520h1v2h-1zM110 525h1v1h-1zM110 532h1v1h-1zM114 532h2v2h-2zM108 534h2v2h-2zM119 536h3v1h-3zM165 537h1v2h-1zM175 537h2v2h-2zM144 539h2v1h-2zM177 539h1v1h-1z"/>
<path fill="#0021ff" d="M119 518h1v1h-1zM119 532h1v1h-1zM114 522h2v3h-2zM111 523h2v2h-2zM107 527h1v3h-1zM105 530h2v2h-2zM108 532h2v1h-2zM166 536h2v1h-2zM125 537h1v2h-1zM128 537h1v2h-1zM147 539h2v1h-2zM162 539h1v1h-1zM207 539h1v1h-1zM329 539h1v1h-1z"/>
<path fill="#002dff" d="M114 525h2v1h-2zM110 534h1v2h-1zM116 534h1v2h-1zM117 537h2v2h-2zM132 537h2v2h-2zM171 537h1v2h-1z"/>
<path fill="#0039ff" d="M128 508h1v1h-1zM101 509h1v2h-1zM114 526h2v1h-2zM104 527h1v2h-1zM111 530h2v2h-2zM111 536h2v1h-2zM105 532h3v1h-3zM117 532h2v1h-2zM105 533h2v1h-2zM123 534h2v2h-2zM175 536h2v1h-2zM131 537h1v2h-1zM178 537h2v2h-2zM152 539h1v1h-1zM163 539h2v1h-2zM265 539h1v1h-1z"/>
<path fill="#0041ff" d="M101 505h1v1h-1zM117 520h2v2h-2zM113 523h1v2h-1zM108 526h2v3h-2zM110 530h1v2h-1zM110 536h1v1h-1zM104 532h1v1h-1zM134 537h1v2h-1zM146 537h1v2h-1zM149 539h1v1h-1zM156 539h2v1h-2zM168 539h1v1h-1zM174 539h1v1h-1zM201 539h1v1h-1z"/>
<path fill="#004dff" d="M101 519h1v1h-1zM113 527h1v2h-1zM108 530h2v2h-2zM132 533h2v1h-2zM155 537h1v2h-1zM161 539h1v1h-1zM165 539h1v1h-1z"/>
<path fill="#0055ff" d="M101 518h1v1h-1zM119 519h1v1h-1zM102 525h2v2h-2zM110 527h1v2h-1zM111 529h2v1h-2zM107 530h1v2h-1zM114 536h2v1h-2zM147 537h2v2h-2zM140 539h1v1h-1zM171 539h1v1h-1zM175 539h2v1h-2z"/>
<path fill="#005dff" d="M110 529h1v1h-1zM107 534h1v2h-1zM120 537h2v2h-2zM126 537h2v2h-2zM158 539h1v1h-1z"/>
<path fill="#0065ff" d="M111 525h2v1h-2zM123 537h2v2h-2zM129 537h2v2h-2zM143 539h1v1h-1z"/>
<path fill="#006dff" d="M116 522h1v1h-1zM102 527h2v2h-2zM122 537h1v2h-1z"/>
<path fill="#0075ff" d="M110 526h1v1h-1z"/>
<path fill="#007dff" d="M101 513h1v2h-1zM101 516h1v2h-1zM101 520h1v2h-1zM101 526h1v1h-1zM111 527h2v2h-2zM108 536h2v1h-2zM150 539h2v1h-2z"/>
<path fill="#0081ff" d="M113 526h1v1h-1zM108 529h2v1h-2zM114 537h2v2h-2zM132 539h2v1h-2zM141 539h2v1h-2z"/>
<path fill="#0089ff" d="M102 530h2v2h-2zM113 537h1v2h-1zM119 537h1v2h-1z"/>
<path fill="#008dff" d="M111 537h2v2h-2zM134 539h1v1h-1z"/>
<path fill="#0094ff" d="M137 539h1v1h-1z"/>
<path fill="#0099ff" d="M113 525h1v1h-1z"/>
<path fill="#00a1ff" d="M104 533h1v1h-1zM128 539h1v1h-1zM135 539h2v1h-2z"/>
<path fill="#00a4ff" d="M101 522h1v1h-1zM129 539h2v1h-2z"/>
<path fill="#00adff" d="M116 537h1v2h-1z"/>
<path fill="#00b4ff" d="M122 539h1v1h-1zM138 539h2v1h-2z"/>
<path fill="#00bdff" d="M104 534h1v2h-1zM107 536h1v1h-1z"/>
<path fill="#00c1ff" d="M131 539h1v1h-1z"/>
<path fill="#00c4ff" d="M105 534h2v2h-2z"/>
<path fill="#00c9ff" d="M101 523h1v2h-1zM102 532h2v1h-2z"/>
<path fill="#00d1ff" d="M101 525h1v1h-1z"/>
<path fill="#00d4ff" d="M125 539h1v1h-1z"/>
<path fill="#00d9ff" d="M120 539h2v1h-2z"/>
<path fill="#00ddfe" d="M111 526h2v1h-2zM102 529h2v1h-2zM110 537h1v2h-1z"/>
<path fill="#09f1ee" d="M126 539h2v1h-2z"/>
<path fill="#09f1ee" d="M101 527h1v2h-1z"/>
<path fill="#0cf4eb" d="M105 536h2v1h-2z"/>
<path fill="#13fde4" d="M119 539h1v1h-1z"/>
<path fill="#16ffe1" d="M108 537h2v2h-2z"/>
<path fill="#19ffde" d="M114 539h2v1h-2z"/>
<path fill="#1cffdb" d="M117 539h2v1h-2z"/>
<path fill="#1fffd7" d="M101 529h1v3h-1z"/>
<path fill="#23ffd4" d="M116 539h1v1h-1zM123 539h2v1h-2z"/>
<path fill="#2cffca" d="M107 537h1v2h-1z"/>
<path fill="#2cffca" d="M102 533h2v1h-2z"/>
<path fill="#3cffba" d="M111 539h2v1h-2z"/>
<path fill="#49ffad" d="M113 539h1v1h-1z"/>
<path fill="#49ffad" d="M110 539h1v1h-1z"/>
<path fill="#53ffa4" d="M101 532h1v1h-1z"/>
<path fill="#77ff80" d="M104 536h1v1h-1z"/>
<path fill="#83ff73" d="M108 539h2v1h-2z"/>
<path fill="#8aff6d" d="M102 534h2v2h-2z"/>
<path fill="#90ff66" d="M105 537h2v2h-2z"/>
<path fill="#adff49" d="M101 533h1v1h-1z"/>
<path fill="#b7ff40" d="M107 539h1v1h-1z"/>
<path fill="#d7ff1f" d="M104 537h1v2h-1z"/>
<path fill="#eeff09" d="M102 536h2v1h-2z"/>
<path fill="#ffe600" d="M105 539h2v1h-2z"/>
<path fill="#ffcc00" d="M101 534h1v2h-1z"/>
<path fill="#ff9800" d="M104 539h1v1h-1z"/>
<path fill="#ff7700" d="M102 537h2v2h-2z"/>
<path fill="#ff5900" d="M101 536h1v1h-1z"/>
<path fill="#df0000" d="M102 539h2v1h-2z"/>
<path fill="#a80000" d="M101 537h1v2h-1z"/>
<path fill="#800000" d="M101 539h1v1h-1z"/>
</g>
<g shape-rendering="crispEdges" fill="#000">
<rect x="100" y="72" width="497" height="1"/>
<rect x="100" y="540" width="497" height="1"/>
<rect x="100" y="72" width="1" height="469"/>
<rect x="596" y="72" width="1" height="469"/>
<rect x="199" y="535" width="1" height="5" fill="#2a2a2a"/><rect x="199" y="534" width="1" height="1" fill="#b0b0b0"/>
<rect x="199" y="73" width="1" height="5" fill="#2a2a2a"/><rect x="199" y="78" width="1" height="1" fill="#b0b0b0"/>
<rect x="101" y="446" width="5" height="1" fill="#2a2a2a"/><rect x="106" y="446" width="1" height="1" fill="#b0b0b0"/>
<rect x="591" y="446" width="5" height="1" fill="#2a2a2a"/><rect x="590" y="446" width="1" height="1" fill="#b0b0b0"/>
<rect x="298" y="535" width="1" height="5" fill="#2a2a2a"/><rect x="298" y="534" width="1" height="1" fill="#b0b0b0"/>
<rect x="298" y="73" width="1" height="5" fill="#2a2a2a"/><rect x="298" y="78" width="1" height="1" fill="#b0b0b0"/>
<rect x="101" y="353" width="5" height="1" fill="#2a2a2a"/><rect x="106" y="353" width="1" height="1" fill="#b0b0b0"/>
<rect x="591" y="353" width="5" height="1" fill="#2a2a2a"/><rect x="590" y="353" width="1" height="1" fill="#b0b0b0"/>
<rect x="398" y="535" width="1" height="5" fill="#2a2a2a"/><rect x="398" y="534" width="1" height="1" fill="#b0b0b0"/>
<rect x="398" y="73" width="1" height="5" fill="#2a2a2a"/><rect x="398" y="78" width="1" height="1" fill="#b0b0b0"/>
<rect x="101" y="259" width="5" height="1" fill="#2a2a2a"/><rect x="106" y="259" width="1" height="1" fill="#b0b0b0"/>
<rect x="591" y="259" width="5" height="1" fill="#2a2a2a"/><rect x="590" y="259" width="1" height="1" fill="#b0b0b0"/>
<rect x="497" y="535" width="1" height="5" fill="#2a2a2a"/><rect x="497" y="534" width="1" height="1" fill="#b0b0b0"/>
<rect x="497" y="73" width="1" height="5" fill="#2a2a2a"/><rect x="497" y="78" width="1" height="1" fill="#b0b0b0"/>
<rect x="101" y="166" width="5" height="1" fill="#2a2a2a"/><rect x="106" y="166" width="1" height="1" fill="#b0b0b0"/>
<rect x="591" y="166" width="5" height="1" fill="#2a2a2a"/><rect x="590" y="166" width="1" height="1" fill="#b0b0b0"/>
</g>
<g shape-rendering="crispEdges">
<rect x="627" y="72" width="24" height="469" fill="#000"/>
<rect x="628" y="73" width="22" height="467" fill="url(#jet)"/>
</g>
<g fill="#000" shape-rendering="crispEdges"><rect x="645" y="228" width="5" height="1" fill="#2a2a2a"/><rect x="644" y="228" width="1" height="1" fill="#000" fill-opacity="0.35"/><rect x="645" y="384" width="5" height="1" fill="#2a2a2a"/><rect x="644" y="384" width="1" height="1" fill="#000" fill-opacity="0.35"/></g>
<g filter="url(#gray)">
<text x="20.50" y="24.00" textLength="20.30" lengthAdjust="spacingAndGlyphs">31</text>
<text x="46.20" y="24.00" textLength="29.30" lengthAdjust="spacingAndGlyphs">day</text>
<text x="82.20" y="24.00" textLength="81.60" lengthAdjust="spacingAndGlyphs">combined</text>
<text x="170.05" y="24.00" textLength="42.20" lengthAdjust="spacingAndGlyphs">(GCR</text>
<text x="217.20" y="24.00" textLength="13.30" lengthAdjust="spacingAndGlyphs">&amp;</text>
<text x="236.20" y="24.00" textLength="36.30" lengthAdjust="spacingAndGlyphs">SEP)</text>
<text x="279.50" y="24.00" textLength="41.75" lengthAdjust="spacingAndGlyphs">cross</text>
<text x="327.75" y="24.00" textLength="28.50" lengthAdjust="spacingAndGlyphs">plot</text>
<text x="363.75" y="24.00" textLength="37.50" lengthAdjust="spacingAndGlyphs">data</text>
<text x="407.20" y="24.00" textLength="62.75" lengthAdjust="spacingAndGlyphs">derived</text>
<text x="476.25" y="24.00" textLength="38.00" lengthAdjust="spacingAndGlyphs">from</text>
<text x="520.65" y="24.00" textLength="69.85" lengthAdjust="spacingAndGlyphs">2416921</text>
<text x="599.20" y="24.00" textLength="108.05" lengthAdjust="spacingAndGlyphs">accumulated</text>
<text x="712.65" y="24.00" textLength="66.85" lengthAdjust="spacingAndGlyphs">seconds</text>
<text x="305.75" y="42.00" textLength="38.23" lengthAdjust="spacingAndGlyphs">from</text>
<text x="349.18" y="42.00" textLength="96.32" lengthAdjust="spacingAndGlyphs">2015-01-09</text>
<text x="450.40" y="42.00" textLength="71.22" lengthAdjust="spacingAndGlyphs">DOY:009</text>
<text x="278.80" y="60.00" textLength="64.18" lengthAdjust="spacingAndGlyphs">through</text>
<text x="349.60" y="60.00" textLength="94.90" lengthAdjust="spacingAndGlyphs">2015-02-08</text>
<text x="449.62" y="60.00" textLength="70.90" lengthAdjust="spacingAndGlyphs">DOY:039</text>
<text x="64.20" y="78.00" textLength="30.60" lengthAdjust="spacingAndGlyphs">500</text>
<text x="65.00" y="171.00" textLength="29.80" lengthAdjust="spacingAndGlyphs">400</text>
<text x="64.20" y="265.00" textLength="30.60" lengthAdjust="spacingAndGlyphs">300</text>
<text x="64.20" y="358.50" textLength="30.60" lengthAdjust="spacingAndGlyphs">200</text>
<text x="64.30" y="452.00" textLength="30.50" lengthAdjust="spacingAndGlyphs">100</text>
<text x="86.00" y="546.00" textLength="8.90" lengthAdjust="spacingAndGlyphs">0</text>
<text x="94.40" y="557.00" textLength="9.46" lengthAdjust="spacingAndGlyphs">0</text>
<text x="184.20" y="557.00" textLength="30.60" lengthAdjust="spacingAndGlyphs">100</text>
<text x="283.20" y="557.00" textLength="30.60" lengthAdjust="spacingAndGlyphs">200</text>
<text x="382.20" y="557.00" textLength="30.60" lengthAdjust="spacingAndGlyphs">300</text>
<text x="482.50" y="557.00" textLength="29.00" lengthAdjust="spacingAndGlyphs">400</text>
<text x="581.50" y="557.00" textLength="29.00" lengthAdjust="spacingAndGlyphs">500</text>
<text x="240.92" y="576.00" textLength="29.28" lengthAdjust="spacingAndGlyphs">LET</text>
<text x="277.20" y="576.00" textLength="13.24" lengthAdjust="spacingAndGlyphs">in</text>
<text x="295.40" y="576.00" textLength="47.64" lengthAdjust="spacingAndGlyphs">D1&amp;2</text>
<text x="349.18" y="576.00" textLength="105.44" lengthAdjust="spacingAndGlyphs">(keV/micron)</text>
<text x="654.30" y="78.00" textLength="40.20" lengthAdjust="spacingAndGlyphs">1000</text>
<text x="654.30" y="233.00" textLength="30.50" lengthAdjust="spacingAndGlyphs">100</text>
<text x="654.30" y="389.50" textLength="20.50" lengthAdjust="spacingAndGlyphs">10</text>
<text x="655.50" y="546.00" textLength="8.30" lengthAdjust="spacingAndGlyphs">1</text>
<text transform="translate(54.00,412.70) rotate(-90)" x="0" y="0" textLength="29.20" lengthAdjust="spacingAndGlyphs">LET</text>
<text transform="translate(54.00,376.82) rotate(-90)" x="0" y="0" textLength="13.80" lengthAdjust="spacingAndGlyphs">in</text>
<text transform="translate(54.00,358.06) rotate(-90)" x="0" y="0" textLength="47.32" lengthAdjust="spacingAndGlyphs">D5&amp;6</text>
<text transform="translate(54.00,304.52) rotate(-90)" x="0" y="0" textLength="105.68" lengthAdjust="spacingAndGlyphs">(keV/micron)</text>
<text transform="translate(712.80,335.34) rotate(-90)" x="0" y="0" textLength="57.14" lengthAdjust="spacingAndGlyphs">Counts</text>
</g>
</svg>
</body></html>
